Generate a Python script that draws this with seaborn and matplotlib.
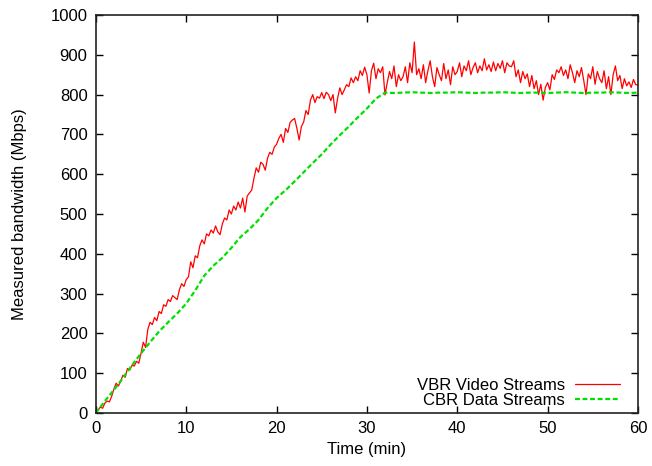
import seaborn as sns
import matplotlib
matplotlib.use("Agg")
import matplotlib.pyplot as plt
import numpy as np
import pandas as pd

# VBR video streams, one sample every 0.25 min (0 .. 60)
vbr_time = np.arange(0, 60.01, 0.25)
vbr_bw = [
    0, 8, 15, 12, 25, 30, 28, 42,
    60, 75, 68, 80, 95, 90, 112, 108,
    120, 118, 130, 125, 150, 178, 165, 210,
    228, 222, 240, 232, 255, 250, 272, 268,
    285, 280, 295, 290, 285, 310, 325, 318,
    335, 342, 380, 365, 395, 390, 420, 435,
    425, 450, 445, 460, 452, 470, 455, 448,
    475, 490, 485, 510, 500, 520, 510, 530,
    515, 540, 505, 545, 553, 560, 590, 616,
    605, 630, 625, 610, 640, 655, 650, 668,
    675, 690, 700, 680, 715, 705, 730, 736,
    740, 715, 686, 720, 731, 760, 750, 786,
    800, 780, 795, 791, 805, 790, 806, 800,
    785, 800, 754, 790, 817, 800, 812, 825,
    820, 842, 830, 845, 835, 860, 848, 869,
    850, 804, 860, 879, 840, 865, 855, 870,
    799, 830, 858, 840, 872, 820, 850, 835,
    845, 870, 830, 880, 855, 932, 850, 865,
    840, 875, 830, 860, 885, 845, 820, 868,
    850, 835, 878, 840, 862, 825, 870, 850,
    858, 880, 845, 872, 860, 885, 850, 868,
    880, 855, 872, 860, 890, 862, 875, 858,
    882, 860, 878, 866, 885, 855, 880, 872,
    870, 885, 845, 862, 830, 858, 840, 852,
    820, 848, 815, 835, 800, 826, 786, 818,
    830, 812, 850, 838, 862, 855, 870, 848,
    862, 840, 875, 855, 830, 860, 845, 868,
    835, 800, 852, 840, 870, 826, 858, 840,
    830, 860, 815, 845, 800, 850, 872, 835,
    848, 815, 840, 822, 832, 818, 838, 825,
    824,
]

# CBR data streams, one sample per minute
cbr_time = np.arange(0, 61, 1)
cbr_bw = [
    0, 30, 58, 88, 120, 150, 178, 205, 228, 250,
    275, 308, 345, 370, 390, 415, 442, 462, 485, 515,
    540, 560, 582, 605, 628, 650, 675, 698, 720, 743,
    765, 790, 805, 804, 805, 806, 805, 804, 805, 805,
    806, 805, 804, 805, 805, 806, 805, 804, 805, 805,
    804, 805, 806, 805, 804, 805, 805, 806, 805, 804,
    805,
]

df_vbr = pd.DataFrame({"time": vbr_time, "bw": vbr_bw})
df_cbr = pd.DataFrame({"time": cbr_time, "bw": cbr_bw})

sns.set_style("ticks")
plt.rcParams["font.family"] = ["Liberation Sans", "DejaVu Sans"]
plt.rcParams["text.color"] = "black"
plt.rcParams["axes.labelcolor"] = "black"
plt.rcParams["xtick.color"] = "black"
plt.rcParams["ytick.color"] = "black"

fig = plt.figure(figsize=(6.52, 4.66), dpi=100)
ax = fig.add_axes([0.147, 0.1137, 0.8315, 0.8541])

sns.lineplot(data=df_vbr, x="time", y="bw", ax=ax, color="#ff0000",
             linewidth=0.9, label="VBR Video Streams")
sns.lineplot(data=df_cbr, x="time", y="bw", ax=ax, color="#00e000",
             linewidth=1.6, linestyle=(0, (2.2, 1.2)), label="CBR Data Streams")

ax.set_xlim(0, 60)
ax.set_ylim(0, 1000)
ax.set_xticks(range(0, 61, 10))
ax.set_yticks(range(0, 1001, 100))
ax.set_xlabel("Time (min)", fontsize=12, labelpad=4)
ax.set_ylabel("Measured bandwidth (Mbps)", fontsize=12, labelpad=17)
ax.tick_params(direction="in", length=5, width=1, labelsize=12,
               top=True, right=True, pad=6)
for s in ax.spines.values():
    s.set_visible(True)
    s.set_linewidth(1.2)
    s.set_color("#222222")

ax.legend(loc="lower right", bbox_to_anchor=(0.994, -0.024), frameon=False,
          markerfirst=False, fontsize=12, handlelength=2.7,
          handletextpad=0.6, labelspacing=0.0)

fig.savefig("out.png", dpi=100)
